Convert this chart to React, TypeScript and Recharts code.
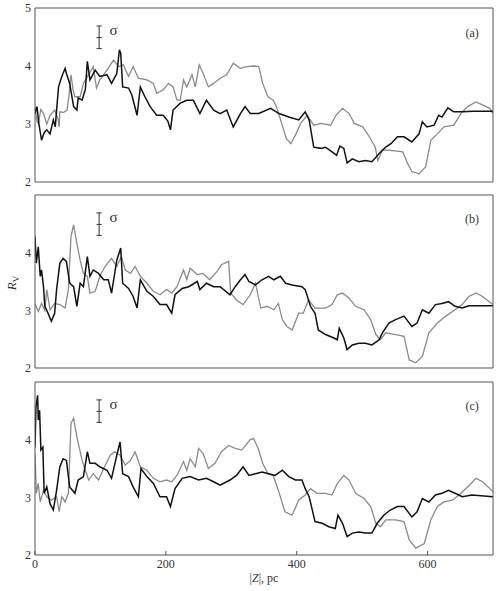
import React from 'react'
import { LineChart, Line, XAxis, YAxis, ReferenceLine, ReferenceDot } from 'recharts'

// |Z| (pc) vs R_V as [x, y] pairs
const aBlack: [number, number][] = [
  [0, 3.18], [3, 3.3], [6, 3.0], [10, 2.72], [14, 2.85], [18, 2.9], [23, 2.83], [28, 3.07], [31, 2.95], [33, 3.24],
  [36, 3.64], [41, 3.82], [46, 3.96], [48, 3.87], [53, 3.7], [59, 3.3], [64, 3.24], [66, 3.45], [72, 3.41], [77, 3.6],
  [80, 4.08], [84, 3.76], [92, 3.93], [99, 3.82], [110, 3.85], [117, 3.7], [125, 3.87], [129, 4.28], [131, 4.22], [134, 3.64],
  [143, 3.62], [148, 3.5], [156, 3.15], [161, 3.64], [168, 3.47], [176, 3.3], [186, 3.15], [196, 3.15], [203, 3.05], [207, 2.9],
  [211, 3.24], [222, 3.36], [232, 3.41], [242, 3.41], [252, 3.18], [262, 3.41], [273, 3.24], [283, 3.18], [293, 3.24], [303, 2.95],
  [314, 3.18], [321, 3.3], [329, 3.18], [342, 3.18], [360, 3.27], [373, 3.18], [388, 3.12], [403, 3.07], [413, 3.21], [419, 3.07],
  [426, 2.6], [437, 2.58], [444, 2.6], [454, 2.52], [461, 2.46], [466, 2.62], [472, 2.58], [477, 2.33], [485, 2.4], [495, 2.35],
  [505, 2.37], [515, 2.35], [526, 2.49], [536, 2.6], [544, 2.66], [554, 2.78], [564, 2.78], [576, 2.69], [587, 2.83], [592, 3.04],
  [599, 2.95], [610, 2.98], [617, 3.15], [622, 3.12], [631, 3.28], [640, 3.21], [653, 3.21], [670, 3.22], [700, 3.22],
]
const aGray: [number, number][] = [
  [0, 3.3], [3, 3.05], [5, 3.01], [9, 3.25], [13, 3.18], [18, 3.0], [23, 3.15], [30, 3.24], [35, 3.1], [37, 2.95],
  [38, 3.21], [44, 3.2], [49, 3.24], [52, 3.5], [55, 3.85], [58, 3.6], [61, 3.47], [69, 3.47], [74, 3.7], [82, 3.85],
  [89, 3.99], [94, 3.62], [99, 3.76], [110, 3.93], [120, 4.1], [128, 3.99], [135, 4.02], [143, 3.82], [150, 3.99], [158, 3.79],
  [171, 3.76], [181, 3.7], [186, 3.53], [196, 3.59], [204, 3.7], [211, 3.64], [217, 3.41], [222, 3.41], [227, 3.76], [232, 3.64],
  [240, 3.85], [245, 3.64], [251, 4.02], [257, 3.87], [265, 3.64], [273, 3.7], [283, 3.79], [293, 3.85], [303, 4.05], [314, 3.96],
  [324, 3.99], [335, 4.0], [342, 3.99], [348, 3.7], [356, 3.47], [364, 3.41], [369, 3.3], [377, 3.01], [384, 2.75], [391, 2.66],
  [399, 2.83], [406, 3.01], [416, 3.15], [426, 2.98], [437, 3.01], [452, 2.98], [460, 3.15], [470, 3.27], [480, 3.18], [488, 3.01],
  [501, 2.95], [511, 2.78], [520, 2.6], [524, 2.37], [531, 2.55], [541, 2.55], [562, 2.52], [569, 2.33], [576, 2.18], [587, 2.14],
  [597, 2.26], [605, 2.72], [615, 2.83], [625, 2.95], [640, 2.98], [651, 3.18], [661, 3.3], [674, 3.38], [684, 3.33], [695, 3.27],
  [700, 3.18],
]

const bBlack: [number, number][] = [
  [0, 4.28], [2, 3.82], [5, 4.1], [8, 3.59], [10, 3.7], [13, 3.41], [15, 3.07], [20, 2.95], [25, 2.81], [30, 2.95],
  [33, 3.36], [38, 3.82], [43, 3.9], [48, 3.85], [53, 3.47], [59, 3.41], [64, 3.07], [69, 3.47], [74, 3.41], [80, 3.93],
  [84, 3.59], [89, 3.7], [97, 3.64], [105, 3.53], [112, 3.53], [117, 3.3], [125, 3.87], [131, 4.08], [134, 3.47], [143, 3.38],
  [150, 3.24], [156, 3.04], [161, 3.53], [171, 3.33], [181, 3.24], [191, 3.1], [201, 3.1], [209, 2.95], [214, 3.27], [225, 3.38],
  [235, 3.41], [248, 3.5], [252, 3.36], [262, 3.47], [273, 3.41], [283, 3.41], [298, 3.27], [306, 3.41], [314, 3.53], [321, 3.62],
  [327, 3.5], [337, 3.44], [347, 3.53], [357, 3.59], [365, 3.53], [375, 3.59], [383, 3.47], [393, 3.44], [408, 3.41], [413, 3.36],
  [421, 3.07], [428, 2.95], [433, 2.66], [444, 2.58], [457, 2.52], [462, 2.49], [465, 2.69], [472, 2.52], [477, 2.32], [485, 2.4],
  [495, 2.43], [505, 2.43], [515, 2.4], [526, 2.49], [531, 2.61], [541, 2.78], [551, 2.84], [564, 2.9], [576, 2.72], [584, 2.78],
  [592, 3.01], [602, 2.95], [612, 3.1], [622, 3.12], [632, 3.15], [642, 3.07], [653, 3.04], [663, 3.08], [700, 3.08],
]
const bGray: [number, number][] = [
  [0, 3.12], [5, 2.98], [10, 3.12], [15, 3.0], [18, 3.36], [23, 3.01], [30, 3.12], [38, 3.1], [46, 3.04], [51, 3.36],
  [55, 4.28], [59, 4.48], [64, 4.16], [69, 3.87], [74, 3.64], [80, 3.59], [84, 3.3], [92, 3.33], [99, 3.59], [107, 3.76],
  [117, 3.9], [125, 3.76], [132, 3.93], [138, 3.7], [146, 3.64], [153, 3.76], [161, 3.59], [171, 3.47], [181, 3.33], [191, 3.27],
  [201, 3.36], [209, 3.3], [217, 3.41], [227, 3.7], [232, 3.53], [237, 3.73], [248, 3.62], [257, 3.64], [267, 3.53], [278, 3.67],
  [285, 3.79], [296, 3.85], [299, 3.3], [308, 3.18], [318, 3.1], [329, 3.27], [337, 3.47], [345, 3.04], [355, 3.07], [365, 3.01],
  [372, 3.12], [378, 2.84], [385, 2.72], [393, 2.66], [403, 2.95], [410, 2.95], [418, 3.18], [428, 3.04], [444, 3.04], [454, 3.1],
  [462, 3.27], [470, 3.3], [480, 3.21], [490, 3.07], [503, 3.01], [513, 2.84], [521, 2.58], [528, 2.49], [536, 2.61], [551, 2.58],
  [564, 2.55], [572, 2.14], [582, 2.09], [592, 2.2], [602, 2.61], [615, 2.78], [628, 2.9], [642, 3.01], [653, 3.1], [663, 3.24],
  [674, 3.3], [684, 3.24], [700, 3.1],
]

const cBlack: [number, number][] = [
  [0, 3.87], [1.5, 4.57], [4, 4.77], [5, 4.34], [7, 4.51], [9, 3.82], [12, 3.87], [14, 3.07], [18, 3.18], [23, 2.89],
  [28, 2.78], [33, 3.12], [38, 3.53], [43, 3.67], [48, 3.64], [53, 3.18], [61, 3.07], [66, 3.3], [74, 3.36], [80, 3.79],
  [84, 3.59], [92, 3.59], [99, 3.53], [110, 3.47], [117, 3.33], [125, 3.73], [130, 3.96], [134, 3.41], [143, 3.36], [150, 3.18],
  [158, 3.01], [162, 3.5], [171, 3.36], [181, 3.24], [191, 3.01], [201, 3.01], [207, 2.84], [214, 3.15], [225, 3.33], [237, 3.36],
  [250, 3.3], [262, 3.33], [273, 3.27], [283, 3.21], [298, 3.3], [308, 3.38], [318, 3.53], [327, 3.38], [337, 3.41], [347, 3.44],
  [357, 3.41], [367, 3.38], [378, 3.47], [388, 3.36], [398, 3.3], [408, 3.3], [413, 3.15], [419, 3.01], [428, 2.58], [439, 2.55],
  [449, 2.49], [459, 2.46], [463, 2.69], [470, 2.55], [477, 2.32], [485, 2.38], [495, 2.4], [505, 2.38], [515, 2.38], [523, 2.55],
  [533, 2.69], [543, 2.78], [554, 2.84], [564, 2.84], [576, 2.66], [584, 2.75], [592, 2.98], [602, 2.92], [612, 3.04], [622, 3.07],
  [632, 3.12], [642, 3.07], [653, 3.01], [668, 3.04], [700, 3.01],
]
const cGray: [number, number][] = [
  [0, 3.76], [2, 3.07], [5, 3.24], [8, 2.92], [13, 3.12], [18, 3.01], [25, 2.95], [33, 3.01], [37, 2.75], [41, 3.01],
  [46, 2.92], [51, 3.07], [55, 4.28], [59, 4.37], [64, 4.05], [72, 3.64], [77, 3.47], [82, 3.3], [89, 3.41], [97, 3.3],
  [105, 3.5], [115, 3.73], [122, 3.79], [130, 3.73], [138, 3.56], [146, 3.64], [153, 3.79], [161, 3.53], [171, 3.47], [181, 3.33],
  [191, 3.27], [201, 3.3], [209, 3.27], [217, 3.38], [227, 3.62], [232, 3.47], [237, 3.67], [245, 3.53], [250, 3.85], [257, 3.76],
  [265, 3.5], [275, 3.59], [285, 3.79], [296, 3.9], [306, 3.85], [316, 3.82], [329, 4.0], [334, 4.02], [341, 3.85], [348, 3.59],
  [356, 3.41], [364, 3.38], [372, 3.12], [382, 2.75], [393, 2.69], [403, 2.95], [413, 3.04], [421, 3.15], [431, 3.07], [444, 3.07],
  [454, 3.04], [462, 3.24], [472, 3.38], [480, 3.3], [490, 3.07], [503, 2.98], [513, 2.84], [521, 2.55], [528, 2.49], [536, 2.61],
  [551, 2.61], [564, 2.58], [572, 2.26], [582, 2.12], [595, 2.2], [605, 2.61], [615, 2.84], [625, 2.92], [638, 2.95], [648, 3.04],
  [661, 3.18], [674, 3.33], [684, 3.27], [700, 3.1],
]

const xTicks = [0, 200, 400, 600]
const xTicksTop = [200, 400, 600]
const sigma = { x: 98, lo: 4.3, mid: 4.49, hi: 4.69 }

const FONT = '"Liberation Serif", "DejaVu Serif", serif'
const FRAME = '#555'

const toPts = (arr: [number, number][]) => arr.map(([x, y]) => ({ x, y }))

function Panel({ black, gray, tag, yTicks, height, marginTop, bottom }: {
  black: [number, number][]
  gray: [number, number][]
  tag: string
  yTicks: number[]
  height: number
  marginTop: number
  bottom: boolean
}) {
  const tickStyle = { fontFamily: FONT, fontSize: 12, fill: '#333' }
  return (
    <LineChart
      width={499}
      height={height}
      margin={{ top: marginTop, right: 5, left: 0, bottom: 6 }}
      style={{ overflow: 'visible', fontFamily: FONT }}
    >
      <XAxis
        xAxisId="b"
        dataKey="x"
        type="number"
        domain={[0, 700]}
        ticks={xTicks}
        interval={0}
        allowDataOverflow
        height={bottom ? 30 : 1}
        tick={bottom ? tickStyle : false}
        tickSize={-4}
        tickMargin={8}
        axisLine={{ stroke: FRAME }}
        tickLine={{ stroke: FRAME }}
      />
      <XAxis
        xAxisId="t"
        orientation="top"
        dataKey="x"
        type="number"
        domain={[0, 700]}
        ticks={xTicksTop}
        interval={0}
        allowDataOverflow
        height={1}
        tick={false}
        tickSize={-4}
        axisLine={{ stroke: FRAME }}
        tickLine={{ stroke: FRAME }}
      />
      <YAxis
        yAxisId="l"
        type="number"
        domain={[2, 5]}
        ticks={yTicks}
        interval={0}
        allowDataOverflow
        width={35}
        tick={tickStyle}
        tickSize={0}
        tickMargin={4}
        tickLine={false}
        axisLine={{ stroke: FRAME }}
      />
      <YAxis
        yAxisId="r"
        orientation="right"
        type="number"
        domain={[2, 5]}
        ticks={[3, 4]}
        interval={0}
        allowDataOverflow
        width={1}
        tick={false}
        tickSize={-4}
        axisLine={{ stroke: FRAME }}
        tickLine={{ stroke: FRAME }}
      />
      <Line
        xAxisId="b"
        yAxisId="l"
        data={toPts(gray)}
        dataKey="y"
        stroke="#8a8a8a"
        strokeWidth={1.3}
        dot={false}
        isAnimationActive={false}
      />
      <Line
        xAxisId="b"
        yAxisId="l"
        data={toPts(black)}
        dataKey="y"
        stroke="#111"
        strokeWidth={1.5}
        dot={false}
        isAnimationActive={false}
      />
      {/* sigma error bar */}
      <ReferenceLine xAxisId="b" yAxisId="l" segment={[{ x: sigma.x, y: sigma.lo }, { x: sigma.x, y: sigma.hi }]} stroke="#333" />
      <ReferenceLine xAxisId="b" yAxisId="l" segment={[{ x: sigma.x - 4, y: sigma.lo }, { x: sigma.x + 4, y: sigma.lo }]} stroke="#333" />
      <ReferenceLine xAxisId="b" yAxisId="l" segment={[{ x: sigma.x - 4, y: sigma.mid }, { x: sigma.x + 4, y: sigma.mid }]} stroke="#333" />
      <ReferenceLine xAxisId="b" yAxisId="l" segment={[{ x: sigma.x - 4, y: sigma.hi }, { x: sigma.x + 4, y: sigma.hi }]} stroke="#333" />
      <ReferenceDot
        xAxisId="b"
        yAxisId="l"
        x={120}
        y={4.62}
        r={1}
        fill="none"
        stroke="none"
        label={{ value: 'σ', position: 'center', fontFamily: FONT, fontSize: 15, fill: '#333' }}
      />
      <ReferenceDot
        xAxisId="b"
        yAxisId="l"
        x={668}
        y={4.58}
        r={1}
        fill="none"
        stroke="none"
        label={{ value: tag, position: 'center', fontFamily: FONT, fontSize: 12, fill: '#333' }}
      />
    </LineChart>
  )
}

export default function App() {
  return (
    <div style={{ position: 'absolute', left: 0, top: 0, width: 499, height: 591, background: '#fff', fontFamily: FONT }}>
      <Panel black={aBlack} gray={aGray} tag="(a)" yTicks={[2, 3, 4, 5]} height={189} marginTop={7} bottom={false} />
      <Panel black={bBlack} gray={bGray} tag="(b)" yTicks={[2, 3, 4]} height={186} marginTop={5} bottom={false} />
      <Panel black={cBlack} gray={cGray} tag="(c)" yTicks={[2, 3, 4]} height={216} marginTop={6} bottom />
      <svg width={499} height={591} style={{ position: 'absolute', left: 0, top: 0, pointerEvents: 'none' }}>
        <text x={0} y={0} transform="translate(16,283) rotate(-90)" textAnchor="middle" fontFamily={FONT} fontSize={13} fill="#333">
          <tspan fontStyle="italic">R</tspan>
          <tspan fontSize={9} dy={3}>V</tspan>
        </text>
        <text x={264} y={582} textAnchor="middle" fontFamily={FONT} fontSize={12} fill="#333">
          |<tspan fontStyle="italic">Z</tspan>|, pc
        </text>
      </svg>
    </div>
  )
}
